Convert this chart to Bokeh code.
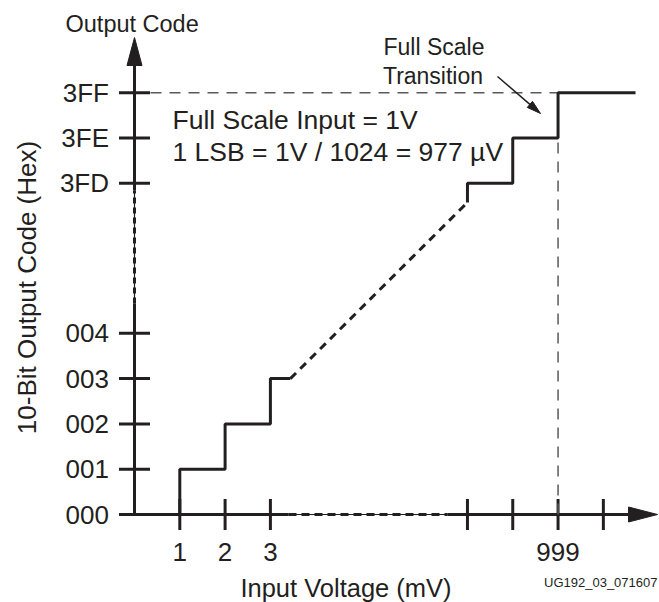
import numpy as np
from bokeh.plotting import figure
from bokeh.models import Range1d
from bokeh.core.properties import value
from bokeh.embed import file_html
from bokeh.resources import INLINE

# ---------------- data ----------------
input_mv_ticks = [1, 2, 3, 997, 998, 999, 1000]
input_mv_labels = ["1", "2", "3", "", "", "999", ""]
code_ticks = [0, 1, 2, 3, 4, 1021, 1022, 1023]
code_labels = ["000", "001", "002", "003", "004", "3FD", "3FE", "3FF"]
low_step_mv = [1, 2, 3]
low_step_code = [1, 2, 3]
high_step_mv = [997, 998, 999]
high_step_code = [1021, 1022, 1023]
full_scale_mv = 999
full_scale_code = 1023

# ---------------- layout helpers ----------------
INK = "#231f20"
GREY = "#58595b"
FONT = value("Liberation Sans")
S = 45.3          # px per unit
W, H = 659, 602
X_SEG2 = 7.35     # axis position of 997 mV (after break)
Y_SEG2 = 7.31     # axis position of code 3FD (after break)


def xp(v):
    v = np.asarray(v, dtype=float)
    return np.where(v < 100, v, X_SEG2 + (v - 997))


def yp(c):
    c = np.asarray(c, dtype=float)
    return np.where(c < 100, c, Y_SEG2 + (c - 1021))


def rx(px):
    return (px - 134) / S


def ry(py):
    return (514 - py) / S


def fs(px):
    return f"{px:.1f}px"


p = figure(width=W, height=H,
           x_range=Range1d(rx(0), rx(W)),
           y_range=Range1d(ry(H), ry(0)),
           output_backend="svg", toolbar_location=None, min_border=0,
           x_axis_location=None, y_axis_location=None)
p.outline_line_color = None
p.xgrid.visible = False
p.ygrid.visible = False
p.background_fill_color = "white"
p.border_fill_color = "white"

# ---------------- axes ----------------
AX_W = 3
y_arrow_tip, y_arrow_base = ry(37), ry(65)
x_arrow_tip, x_arrow_base = rx(657), rx(628)
# y axis: solid / broken / solid
p.line([0, 0], [0, ry(303)], line_color=INK, line_width=AX_W)
p.line([0, 0], [ry(303), ry(190)], line_color=INK, line_width=1.2)
p.line([0, 0], [ry(303), ry(190)], line_color=INK, line_width=AX_W, line_dash="6 4")
p.line([0, 0], [ry(190), y_arrow_base + 0.05], line_color=INK, line_width=AX_W)
p.patch([0, -7.5 / S, 7.5 / S], [y_arrow_tip, y_arrow_base, y_arrow_base],
        fill_color=INK, line_color=INK, line_width=1)
# x axis
p.line([0, rx(288)], [0, 0], line_color=INK, line_width=AX_W)
p.line([rx(288), rx(447)], [0, 0], line_color=INK, line_width=1.2)
p.line([rx(288), rx(447)], [0, 0], line_color=INK, line_width=AX_W, line_dash="8 5")
p.line([rx(447), x_arrow_base + 0.05], [0, 0], line_color=INK, line_width=AX_W)
p.patch([x_arrow_tip, x_arrow_base, x_arrow_base], [0, 7.5 / S, -7.5 / S],
        fill_color=INK, line_color=INK, line_width=1)

# ticks
p.scatter(x=np.zeros(len(code_ticks)), y=yp(code_ticks), marker="dash",
          size=31, line_color=INK, line_width=AX_W)
p.scatter(x=xp(input_mv_ticks), y=np.zeros(len(input_mv_ticks)), marker="dash",
          angle=np.pi / 2, size=31, line_color=INK, line_width=AX_W)

# tick labels
p.text(x=np.full(len(code_ticks), rx(108.5)), y=yp(code_ticks), text=code_labels,
       text_font=FONT, text_font_size=fs(26), text_color=INK,
       text_align="right", text_baseline="middle")
p.text(x=xp(input_mv_ticks), y=np.full(len(input_mv_ticks), ry(551.5)), text=input_mv_labels,
       text_font=FONT, text_font_size=fs(26), text_color=INK,
       text_align="center", text_baseline="middle")

# ---------------- reference dashed lines ----------------
p.line([rx(150), xp(full_scale_mv)], [yp(full_scale_code)] * 2,
       line_color=GREY, line_width=1.5, line_dash="11 8")
p.line([xp(full_scale_mv)] * 2, [0, yp(full_scale_code)],
       line_color=GREY, line_width=1.5, line_dash="11 8")

# ---------------- transfer staircase ----------------
TAIL_LO = 0.44
TAIL_HI = 1.71
DIAG_DROP = 0.42

lx, ly = [low_step_mv[0]], [0]
prev = 0
for m, c in zip(low_step_mv, low_step_code):
    lx += [m, m]
    ly += [prev, c]
    prev = c
lx = list(xp(lx)) + [float(xp(low_step_mv[-1])) + TAIL_LO]
ly = list(yp(ly)) + [float(yp(low_step_code[-1]))]
p.line(lx[1:], ly[1:], line_color=INK, line_width=AX_W)

diag_end_y = float(yp(high_step_code[0])) - DIAG_DROP
p.line([lx[-1], float(xp(high_step_mv[0]))], [ly[-1], diag_end_y],
       line_color=INK, line_width=AX_W, line_dash="8 6")

hx, hy = [float(xp(high_step_mv[0]))], [diag_end_y]
for m, c in zip(high_step_mv, high_step_code):
    hx += [float(xp(m)), float(xp(m))]
    hy += [hy[-1], float(yp(c))]
hx += [float(xp(high_step_mv[-1])) + TAIL_HI]
hy += [float(yp(high_step_code[-1]))]
p.line(hx[1:], hy[1:], line_color=INK, line_width=AX_W)

# ---------------- annotations ----------------
p.text(x=[rx(65)], y=[ry(23.5)], text=["Output Code"], text_font=FONT,
       text_font_size=fs(23.5), text_color=INK, text_baseline="middle")
p.text(x=[rx(26)], y=[ry(287)], text=["10-Bit Output Code (Hex)"], text_font=FONT,
       text_font_size=fs(26), text_color=INK, angle=np.pi / 2,
       text_align="center", text_baseline="middle")
p.text(x=[rx(172), rx(172)], y=[ry(119.5), ry(151)],
       text=["Full Scale Input = 1V", "1 LSB = 1V / 1024 = 977 µV"],
       text_font=FONT, text_font_size=fs(26.5), text_color=INK,
       text_baseline="middle")
p.text(x=[rx(433.5), rx(432.5)], y=[ry(46.5), ry(75)], text=["Full Scale", "Transition"],
       text_font=FONT, text_font_size=fs(23), text_color=INK,
       text_align="center", text_baseline="middle")
p.text(x=[rx(345.5)], y=[ry(587)], text=["Input Voltage (mV)"], text_font=FONT,
       text_font_size=fs(25.5), text_color=INK, text_align="center",
       text_baseline="middle")
p.text(x=[rx(657)], y=[ry(582)], text=["UG192_03_071607"], text_font=FONT,
       text_font_size=fs(13), text_color=INK, text_align="right",
       text_baseline="middle")

# pointer arrow
ax0, ay0 = rx(497), ry(76)
ax1, ay1 = rx(540), ry(113)
d = np.array([ax1 - ax0, ay1 - ay0])
d = d / np.hypot(*d)
n = np.array([-d[1], d[0]])
hl, hw = 14 / S, 4 / S
base = np.array([ax1, ay1]) - d * hl
p.line([ax0, base[0] + d[0] * 0.05], [ay0, base[1] + d[1] * 0.05], line_color=INK, line_width=1.5)
p.patch([ax1, base[0] + n[0] * hw, base[0] - n[0] * hw],
        [ay1, base[1] + n[1] * hw, base[1] - n[1] * hw],
        fill_color=INK, line_color=INK, line_width=1)

open("out.html", "w").write(file_html(p, INLINE))
